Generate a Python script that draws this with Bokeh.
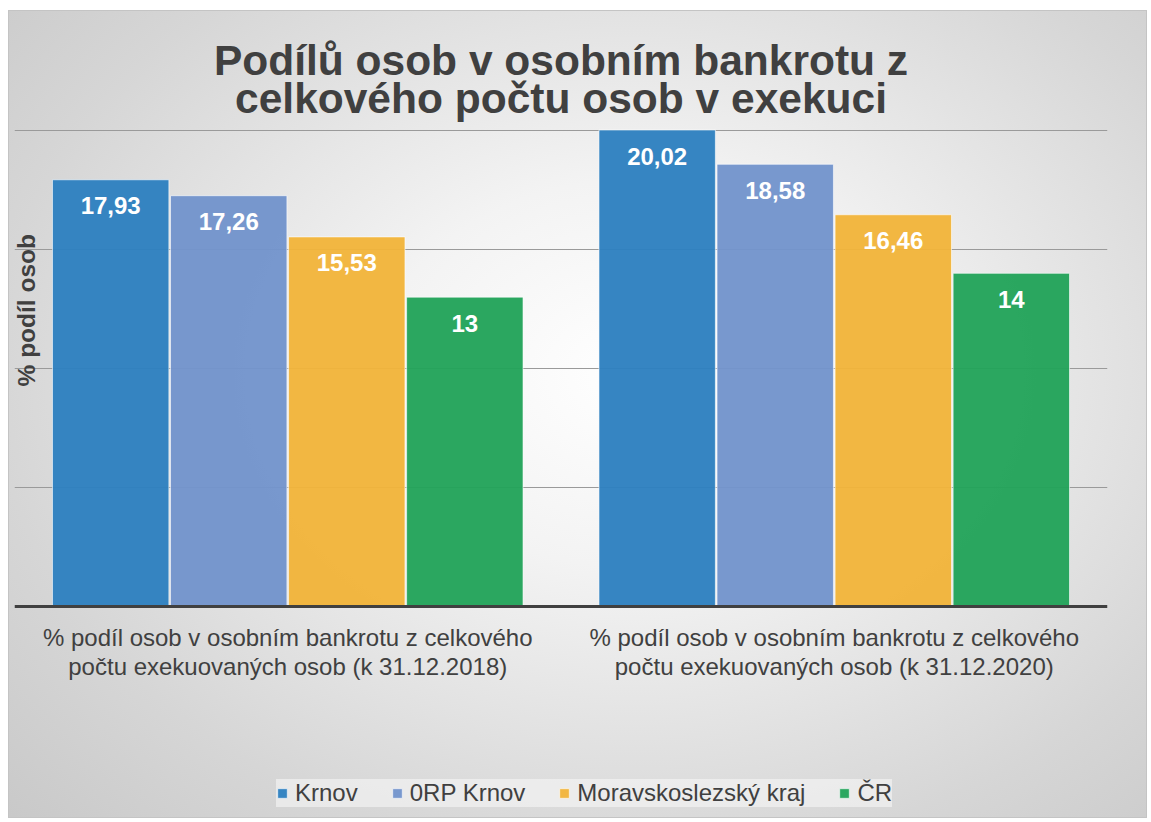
import math
from bokeh.plotting import figure
from bokeh.models import ColumnDataSource, FactorRange, Range1d, Label, Span, Legend, LegendItem
from bokeh.transform import dodge
from bokeh.core.properties import value
from bokeh.embed import file_html
from bokeh.resources import INLINE

# ---- data ----
cat_keys = ["2018", "2020"]
category_lines = [
    ["% podíl osob v osobním bankrotu z celkového", "počtu exekuovaných osob (k 31.12.2018)"],
    ["% podíl osob v osobním bankrotu z celkového", "počtu exekuovaných osob (k 31.12.2020)"],
]
series_names = ["Krnov", "0RP Krnov", "Moravskoslezský kraj", "ČR"]
krnov = [17.93, 20.02]
orp_krnov = [17.26, 18.58]
msk = [15.53, 16.46]
cr = [13, 14]
series_values = [krnov, orp_krnov, msk, cr]
y_ticks = [5, 10, 15, 20]

title_lines = ["Podílů osob v osobním bankrotu z", "celkového počtu osob v exekuci"]
y_label = "% podíl osob"

colors = ["#2e80c0", "#7394cc", "#f1b43a", "#22a35a"]
offsets = [-0.324, -0.108, 0.108, 0.324]
FONT = "Liberation Sans"
TXT = "#404040"

p = figure(
    x_range=FactorRange(factors=cat_keys, range_padding=0),
    y_range=Range1d(-8.9, 25.04),
    width=1139, height=808,
    min_border_left=6, min_border_right=40, min_border_top=0, min_border_bottom=0,
    output_backend="svg", toolbar_location=None, tools="",
)
p.styles = {
    "margin": "10px 0 0 8px",
    "background": "radial-gradient(ellipse 75% 80% at 55% 45%, #ffffff 0%, #f3f3f3 30%, #d6d6d6 75%, #c9c9c9 100%)",
    "box-shadow": "inset 0 0 0 1px #c4c4c4",
}
p.border_fill_alpha = 0
p.background_fill_alpha = 0
p.outline_line_color = None
p.xaxis.visible = False
p.yaxis.visible = False
p.xgrid.grid_line_color = None
p.ygrid.ticker = y_ticks
p.ygrid.grid_line_color = "#9a9a9a"
p.ygrid.grid_line_width = 1

renderers = []
for name, vals, col, off in zip(series_names, series_values, colors, offsets):
    src = ColumnDataSource(dict(
        x=cat_keys, y=vals,
        label=[f"{v:g}".replace(".", ",") for v in vals],
    ))
    r = p.vbar(x=dodge("x", off, range=p.x_range), top="y", width=0.213, source=src,
               fill_color=col, fill_alpha=0.96, line_color="white", line_alpha=0.6, line_width=1)
    renderers.append((name, r))
    p.text(x=dodge("x", off, range=p.x_range), y="y", text="label", source=src,
           text_align="center", text_baseline="alphabetic", y_offset=26,
           text_color="white", text_font=value(FONT), text_font_style="bold",
           text_font_size="24px")

p.add_layout(Span(location=0, dimension="width", line_color="#404040", line_width=3))

# title
for txt, yy in zip(title_lines, [22.94, 21.34]):
    p.add_layout(Label(x=1.0, y=yy, text=txt, text_align="center", text_baseline="alphabetic",
                       text_font=FONT, text_font_style="bold", text_font_size="42.5px",
                       text_color=TXT))

# y axis label
p.add_layout(Label(x=0.022, y=12.45, text=y_label, angle=math.pi / 2, text_align="center",
                   text_baseline="middle", text_font=FONT, text_font_style="bold",
                   text_font_size="24.5px", text_color=TXT))

# category labels
for i, lines in enumerate(category_lines):
    for txt, yy in zip(lines, [-1.30, -2.52]):
        p.add_layout(Label(x=i + 0.5, y=yy, text=txt, text_align="center",
                           text_baseline="alphabetic", text_font=FONT,
                           text_font_size="24px", text_color=TXT))

legend = Legend(
    items=[LegendItem(label=n, renderers=[r]) for n, r in renderers],
    orientation="horizontal", location=(262, 11),
    glyph_width=12, glyph_height=12, label_standoff=7, spacing=33, padding=10,
    label_text_font=FONT, label_text_font_size="24px", label_text_color=TXT,
    background_fill_color="#f6f6f6", background_fill_alpha=0.6,
    border_line_color=None,
)
p.add_layout(legend)

open("out.html", "w").write(file_html(p, INLINE))
